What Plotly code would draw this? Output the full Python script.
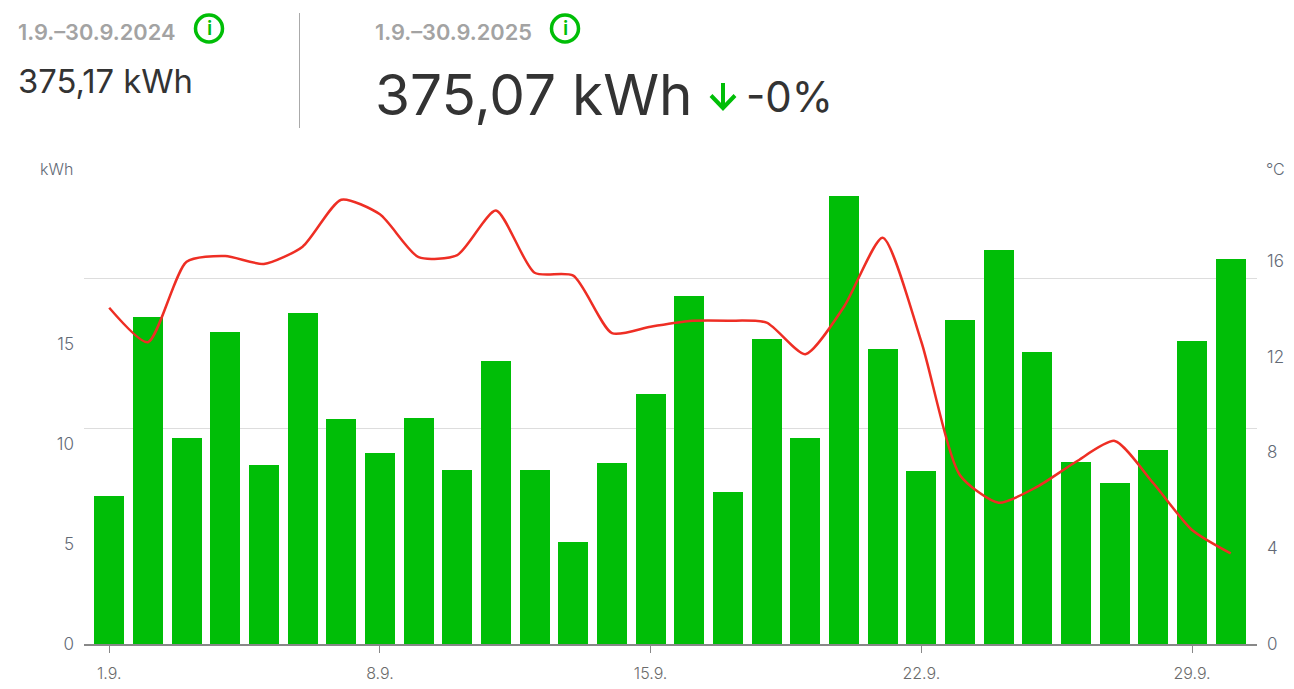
import plotly.graph_objects as go

days = list(range(1, 31))
energy_kwh = [7.4, 16.35, 10.3, 15.6, 8.95, 16.55, 11.25, 9.55, 11.3, 8.7,
              14.15, 8.7, 5.1, 9.05, 12.5, 17.4, 7.6, 15.25, 10.3, 22.4,
              14.75, 8.65, 16.2, 19.7, 14.6, 9.1, 8.05, 9.7, 15.15, 19.25]
temp_c = [14.04, 12.6, 15.96, 16.2, 15.87, 16.59, 18.55, 17.94, 16.15, 16.24,
          18.1, 15.5, 15.38, 12.98, 13.25, 13.49, 13.5, 13.42, 12.1, 14.08,
          16.96, 12.62, 7.05, 5.9, 6.57, 7.61, 8.48, 6.71, 4.76, 3.78]
x_tick_days = [1, 8, 15, 22, 29]
x_tick_labels = ["1.9.", "8.9.", "15.9.", "22.9.", "29.9."]
left_ticks = [0, 5, 10, 15]
right_ticks = [0, 4, 8, 12, 16]
grid_values = [10.8, 18.3]

GREEN = "#00BE07"
RED = "#EE2E24"
TICK = "#626975"
XTICK = "#6B6B6B"
FONT = "Inter"

W, H = 1294, 689
L, R, T, B = 84, 37, 184, 45
PW, PH = W - L - R, H - T - B

def px(x):
    return (x - L) / PW

def py(y):
    return (T + PH - y) / PH

fig = go.Figure()
fig.add_bar(x=days, y=energy_kwh, width=0.775, marker=dict(color=GREEN, line=dict(width=0)),
            name="kWh", showlegend=False)
fig.add_scatter(x=days, y=temp_c, yaxis="y2", mode="lines",
                line=dict(color=RED, width=2.5, shape="spline", smoothing=0.65),
                name="°C", showlegend=False)

def label(text, x, y, size, color, weight=400, anchor="left"):
    fig.add_annotation(text=text, xref="paper", yref="paper", x=px(x), y=py(y), xanchor=anchor,
                       yanchor="middle", showarrow=False, align="left", borderpad=0,
                       font=dict(family=FONT, size=size, color=color, weight=weight))

label("1.9.–30.9.2024", 17, 32, 21.8, "#A3A3A3", 600)
label("1.9.–30.9.2025", 374, 32, 21.8, "#A3A3A3", 600)
label("375,17 kWh", 17, 81, 32.8, "#333333")
label("375,07 kWh", 374, 95, 56.7, "#333333")
label("-0%", 745, 96, 42, "#333333")
label("kWh", 39, 169, 16, TICK, 300)
label("°C", 1265, 169, 16, TICK, 300)
label("i", 209, 28, 20, GREEN, 600, "center")
label("i", 565, 28, 20, GREEN, 600, "center")

shapes = []
for cx in (209, 565):
    shapes.append(dict(type="circle", xref="paper", yref="paper", x0=px(cx - 13.5), x1=px(cx + 13.5),
                       y0=py(15), y1=py(42), line=dict(color=GREEN, width=3.5)))
shapes.append(dict(type="line", xref="paper", yref="paper", x0=px(299.5), x1=px(299.5),
                   y0=py(13), y1=py(128), line=dict(color="#AAAAAA", width=1)))
arrow_path = (f"M {px(723)} {py(83)} L {px(723)} {py(108)} "
              f"M {px(711)} {py(95.5)} L {px(723)} {py(108)} L {px(735)} {py(95.5)}")
shapes.append(dict(type="path", xref="paper", yref="paper", path=arrow_path,
                   line=dict(color=GREEN, width=4)))

fig.update_layout(
    width=W, height=H, autosize=False,
    margin=dict(l=L, r=R, t=T, b=B, pad=0, autoexpand=False),
    paper_bgcolor="white", plot_bgcolor="white",
    font=dict(family=FONT, color=TICK, size=15),
    shapes=shapes, bargap=0,
    xaxis=dict(range=[0.348, 30.68], tickmode="array", tickvals=x_tick_days, ticktext=x_tick_labels,
               showgrid=False, zeroline=False, showline=True, linecolor="#888888", linewidth=1.5,
               ticks="outside", ticklen=7, tickcolor="#888888", tickwidth=1, automargin=False,
               tickfont=dict(size=16, color=XTICK, weight=300), ticklabelstandoff=7),
    yaxis=dict(range=[0, 23], tickmode="array", tickvals=left_ticks, showgrid=False, zeroline=False,
               showline=False, ticks="", automargin=False,
               tickfont=dict(size=17, color=TICK, weight=300), ticklabelstandoff=9,
               minor=dict(tickmode="array", tickvals=grid_values, showgrid=True,
                          gridcolor="#DDDDDD", gridwidth=1, ticks="")),
    yaxis2=dict(range=[0, 19.207], overlaying="y", side="right", tickmode="array", tickvals=right_ticks,
                showgrid=False, zeroline=False, showline=False, ticks="", automargin=False,
                tickfont=dict(size=17, color=TICK, weight=300), ticklabelstandoff=9),
)

fig.write_html("out.html", config={"displayModeBar": False},
               post_script="document.body.style.margin='0';document.body.style.overflow='hidden';")
